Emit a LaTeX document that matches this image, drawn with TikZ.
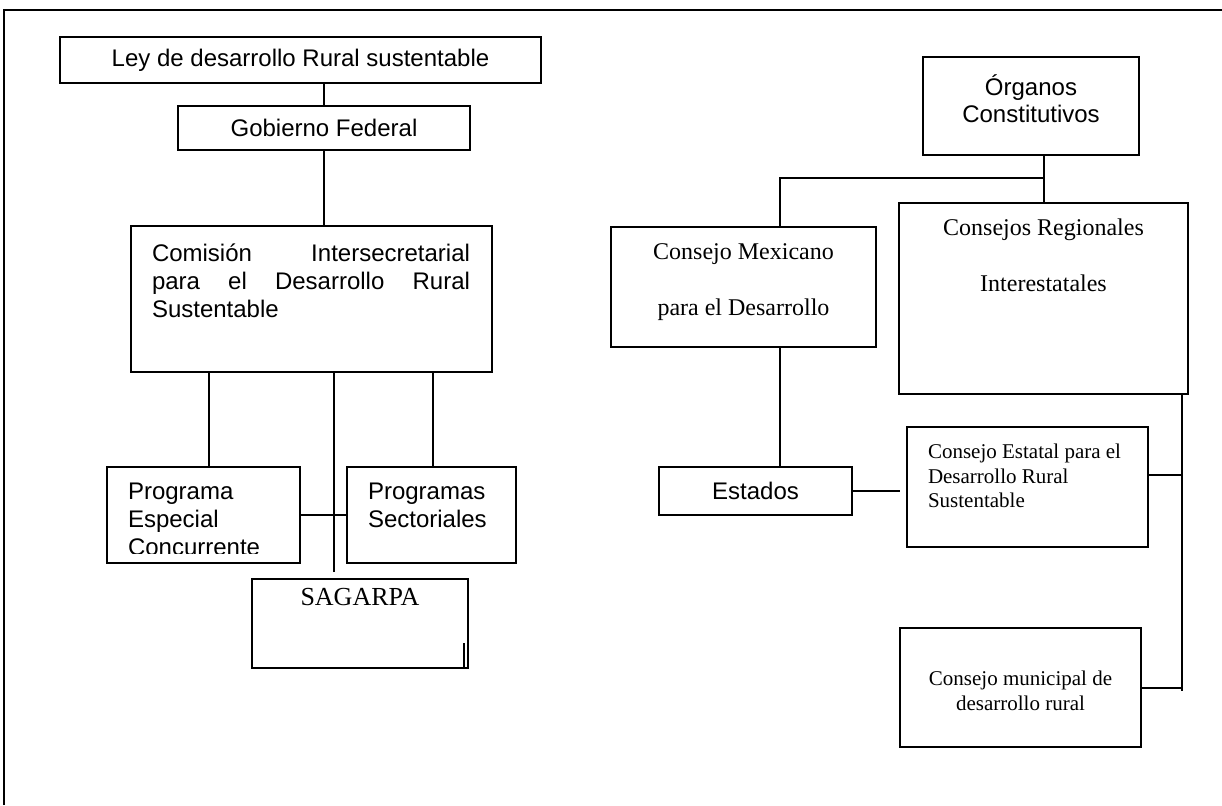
\documentclass[tikz,border=0pt]{standalone}
\usepackage{fontspec}
\setmainfont{Liberation Serif}
\setsansfont{Liberation Sans}

\begin{document}
\begin{tikzpicture}[x=0.5pt,y=-0.5pt,line width=1pt,
    box/.style={draw,rectangle,inner sep=0pt,outer sep=0pt},
    lbl/.style={inner sep=0pt,outer sep=0pt},
    arial/.style={font=\sffamily\fontsize{12}{14}\selectfont},
    times/.style={font=\rmfamily\fontsize{12}{28}\selectfont},
    small times/.style={font=\rmfamily\fontsize{10.5}{12.25}\selectfont}]
  \useasboundingbox (0,0) rectangle (1222,805);
  \draw (4,805) -- (4,10) -- (1222,10);

  % left branch
  \node[box,arial,minimum width=240.5pt,minimum height=23pt] (ley) at (300.5,60) {Ley de desarrollo Rural sustentable};
  \node[box,arial,minimum width=146pt,minimum height=22pt] (gobierno) at (324,128) {Gobierno Federal};
  \node[box,minimum width=180.5pt,minimum height=73pt] (comision) at (311.5,299) {};
  \node[lbl,arial,anchor=north west,text width=159pt,align=left] (comisiontxt) at (152,244)
    {Comisión\hfill Intersecretarial\\ para\hfill el\hfill Desarrollo\hfill Rural\\ Sustentable};
  \node[box,minimum width=96.5pt,minimum height=48pt] (especial) at (203.5,515) {};
  \begin{scope}
    \clip (especial.north west) rectangle ([yshift=5pt]especial.south east);
    \node[lbl,arial,anchor=north west,align=left] (especialtxt) at (128,483) {Programa\\Especial\\Concurrente};
  \end{scope}
  \node[box,minimum width=84.5pt,minimum height=48pt] (sectoriales) at (431.5,515) {};
  \node[lbl,arial,anchor=north west,align=left] (sectorialestxt) at (368,483) {Programas\\Sectoriales};
  \node[box,minimum width=108pt,minimum height=44.5pt] (sagarpa) at (360,623.5) {};
  \node[lbl,font=\rmfamily\fontsize{13}{15}\selectfont,anchor=north] (sagarpatxt) at (360,588) {SAGARPA};

  \draw (gobierno.north) -- (gobierno.north |- ley.south);
  \draw (gobierno.south) -- (gobierno.south |- comision.north);
  \draw ([xshift=2.75pt]especial.north) -- ([xshift=2.75pt]especial.north |- comision.south);
  \draw ([xshift=0.75pt]sectoriales.north) -- ([xshift=0.75pt]sectoriales.north |- comision.south);
  \coordinate (sagtop) at (334,572);
  \draw (sagtop) -- (sagtop |- comision.south);
  \draw (especial.east) -- (sectoriales.west);
  \draw ([xshift=-2pt]sagarpa.south east) -- ++(0,-25);

  % right branch
  \node[box,minimum width=108pt,minimum height=49pt] (organos) at (1031,106) {};
  \node[lbl,anchor=north,align=center,font=\sffamily\fontsize{12}{13.5}\selectfont] (organostxt) at (1031,75) {Órganos\\Constitutivos};
  \node[box,minimum width=132.5pt,minimum height=60pt] (mexicano) at (743.5,287) {};
  \node[lbl,times,anchor=north,align=center] (mexicanotxt) at (743.5,244) {Consejo Mexicano\\para el Desarrollo};
  \node[box,minimum width=144.5pt,minimum height=95.5pt] (regionales) at (1043.5,298.5) {};
  \node[lbl,times,anchor=north,align=center] (regionalestxt) at (1043.5,218.5) {Consejos Regionales\\Interestatales};
  \node[box,arial,minimum width=96.5pt,minimum height=24pt] (estados) at (755.5,491) {Estados};
  \node[box,minimum width=120.5pt,minimum height=60pt] (estatal) at (1027.5,487) {};
  \node[lbl,small times,anchor=north west,align=left] (estataltxt) at (928,444) {Consejo Estatal para el\\Desarrollo Rural\\Sustentable};
  \node[box,minimum width=120.5pt,minimum height=59.5pt] (municipal) at (1020.5,687.5) {};
  \node[lbl,small times,anchor=north,align=center] (municipaltxt) at (1020.5,671) {Consejo municipal de\\desarrollo rural};

  \coordinate (split) at (1043.5,178);
  \draw (regionales.north) -- (regionales.north |- organos.south);
  \draw ([xshift=18pt]mexicano.north) |- (split);
  \draw ([xshift=18pt]mexicano.south) -- ([xshift=18pt]mexicano.south |- estados.north);
  \coordinate (estgap) at ([xshift=-3.5pt]estatal.west |- estados.east);
  \draw (estados.east) -- (estgap);
  \coordinate (spinetop) at ([xshift=-3pt]regionales.south east);
  \coordinate (spinebot) at (1182,691);
  \draw (spinetop) -- (spinebot);
  \draw ([yshift=6pt]estatal.east) -- ([yshift=6pt]estatal.east -| spinetop);
  \draw (municipal.east) -- (municipal.east -| spinetop);
\end{tikzpicture}
\end{document}
